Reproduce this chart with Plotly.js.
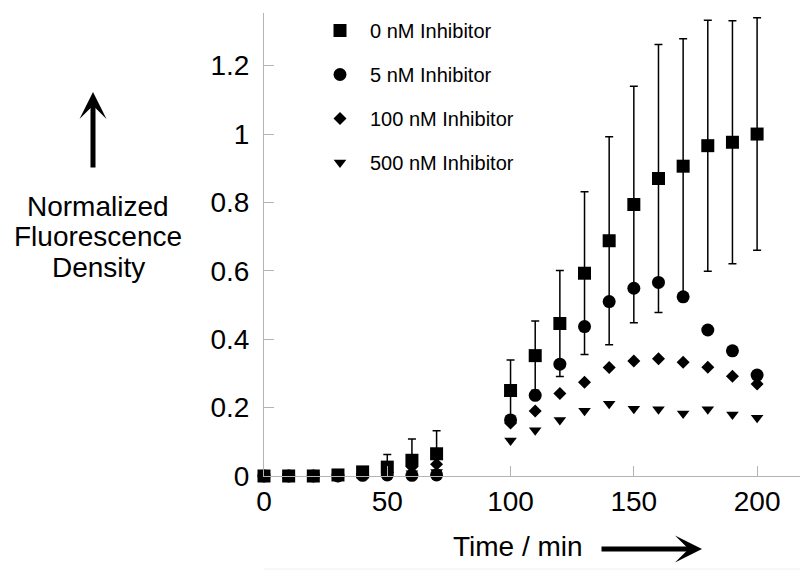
<!DOCTYPE html>
<html>
<head>
<meta charset="utf-8">
<script src="https://cdn.plot.ly/plotly-3.0.1.min.js"></script>
<style>html,body{margin:0;padding:0;background:#fff;}#chart{width:800px;height:572px;}</style>
</head>
<body>
<div id="chart"></div>
<script>
// Time points (min)
const time = [0, 10, 20, 30, 40, 50, 60, 70, 100, 110, 120, 130, 140, 150, 160, 170, 180, 190, 200];

// Normalized fluorescence density per inhibitor concentration
const inhib0nM   = [0, 0, 0, 0.003, 0.012, 0.026, 0.046, 0.065, 0.250, 0.352, 0.446, 0.593, 0.688, 0.794, 0.870, 0.906, 0.966, 0.976, 1.000];
const inhib0nMErr= [0, 0, 0, 0, 0, 0.037, 0.062, 0.067, 0.089, 0.101, 0.155, 0.238, 0.304, 0.346, 0.392, 0.373, 0.367, 0.355, 0.340];
const inhib5nM   = [0, 0, 0, 0, 0.002, 0.003, 0.002, 0.003, 0.164, 0.236, 0.327, 0.437, 0.510, 0.549, 0.566, 0.524, 0.427, 0.366, 0.295];
const inhib100nM = [0, 0, 0, 0, 0.004, 0.010, 0.027, 0.034, 0.155, 0.190, 0.241, 0.274, 0.317, 0.336, 0.343, 0.333, 0.318, 0.292, 0.269];
const inhib500nM = [0, 0, 0, 0, 0, 0.004, 0.008, 0.012, 0.104, 0.134, 0.164, 0.191, 0.211, 0.197, 0.195, 0.183, 0.195, 0.180, 0.170];

const seriesNames = ['0 nM Inhibitor', '5 nM Inhibitor', '100 nM Inhibitor', '500 nM Inhibitor'];
const yTickVals = [0, 0.2, 0.4, 0.6, 0.8, 1, 1.2];
const yTickText = ['0', '0.2', '0.4', '0.6', '0.8', '1', '1.2'];
const xTickVals = [0, 50, 100, 150, 200];
const yTitleLines = ['Normalized', 'Fluorescence', 'Density'];
const xTitle = 'Time / min';

const FONT = '"Liberation Sans", Arial, Helvetica, sans-serif';

function scatter(y, name, symbol, size, group, err) {
  const t = {
    x: time, y: y, name: name, type: 'scatter', mode: 'markers',
    legendgroup: group, cliponaxis: false,
    marker: {symbol: symbol, size: size, color: '#000'}
  };
  if (err) {
    t.error_y = {type: 'data', array: err, visible: true, color: '#000', thickness: 1.5, width: 4};
  }
  return t;
}

const data = [
  scatter(inhib0nM, seriesNames[0], 'square', 13, 'g0', inhib0nMErr),
  scatter(inhib5nM, seriesNames[1], 'circle', 13, 'g1'),
  scatter(inhib100nM, seriesNames[2], 'diamond', 10, 'g2'),
  scatter(inhib500nM, seriesNames[3], 'triangle-down', 11, 'g3')
];

// pixel helpers for placing free text (plot area: x 264..800, y 13..476)
const px = v => (v - 264) / 536;
const py = v => (476 - v) / 463;

const yTitleY = [206, 237, 267];
const annotations = yTitleLines.map((t, i) => ({
  xref: 'paper', yref: 'paper', x: px(98), y: py(yTitleY[i]),
  xanchor: 'center', yanchor: 'middle',
  text: t, showarrow: false, font: {family: FONT, size: 28, color: '#000'}
}));
annotations.push(
  {xref: 'paper', yref: 'paper', x: px(93), y: py(92),
   ax: 0, ay: 77, text: '', showarrow: true, arrowhead: 3, arrowsize: 0.9,
   arrowwidth: 5, arrowcolor: '#000', standoff: 0},
  {xref: 'paper', yref: 'paper', x: px(518), y: py(546), xanchor: 'center', yanchor: 'middle',
   text: xTitle, showarrow: false, font: {family: FONT, size: 28, color: '#000'}},
  {xref: 'paper', yref: 'paper', x: px(702), y: py(549),
   ax: -102, ay: 0, text: '', showarrow: true, arrowhead: 3, arrowsize: 0.9,
   arrowwidth: 5, arrowcolor: '#000', standoff: 0}
);

const layout = {
  width: 800, height: 572,
  margin: {l: 264, r: 0, t: 13, b: 96},
  paper_bgcolor: '#fff', plot_bgcolor: '#fff',
  font: {family: FONT, color: '#000'},
  showlegend: true,
  legend: {
    xref: 'paper', yref: 'paper',
    x: px(310), y: py(11), xanchor: 'left', yanchor: 'top',
    bgcolor: 'rgba(0,0,0,0)', borderwidth: 0,
    font: {family: FONT, size: 20, color: '#000'},
    traceorder: 'grouped', tracegroupgap: 15, itemwidth: 50
  },
  xaxis: {
    range: [0, 217.4], showgrid: false, zeroline: false, automargin: false,
    showline: true, linecolor: '#b4b4b4', linewidth: 1,
    ticks: 'inside', ticklen: 10, tickcolor: '#b4b4b4', tickwidth: 1,
    tickvals: xTickVals, ticktext: xTickVals.map(String),
    tickfont: {family: FONT, size: 28, color: '#000'}
  },
  yaxis: {
    range: [0, 1.354], showgrid: false, zeroline: false, automargin: false,
    showline: true, linecolor: '#b4b4b4', linewidth: 1,
    ticks: 'inside', ticklen: 10, tickcolor: '#b4b4b4', tickwidth: 1,
    tickvals: yTickVals, ticktext: yTickText,
    ticklabelstandoff: 8,
    tickfont: {family: FONT, size: 28, color: '#000'}
  },
  annotations: annotations,
  shapes: [
    {type: 'line', xref: 'paper', yref: 'paper', x0: 0, x1: 1,
     y0: py(569), y1: py(569), line: {color: '#eeeeee', width: 1}}
  ]
};

Plotly.newPlot('chart', data, layout, {staticPlot: true, displayModeBar: false});
</script>
</body>
</html>
